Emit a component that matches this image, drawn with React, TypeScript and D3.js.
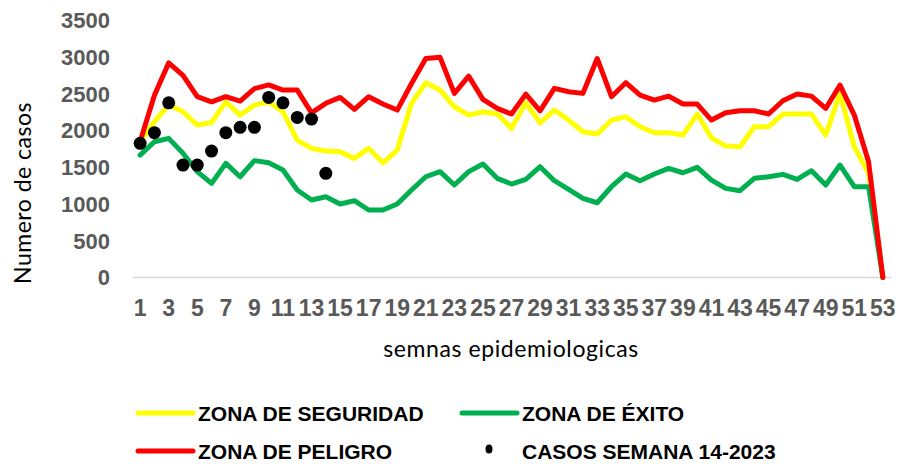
import React, { useRef, useEffect } from 'react';
import * as d3 from 'd3';

const weeks = [
  '1', '2', '3', '4', '5', '6', '7', '8', '9', '10', '11', '12', '13', '14', '15', '16', '17', '18',
  '19', '20', '21', '22', '23', '24', '25', '26', '27', '28', '29', '30', '31', '32', '33', '34', '35',
  '36', '37', '38', '39', '40', '41', '42', '43', '44', '45', '46', '47', '48', '49', '50', '51', '52', '53',
];

const zonaSeguridad = [
  1850, 2120, 2350, 2255, 2075, 2110, 2390, 2210, 2345, 2390, 2255, 1870, 1757, 1720, 1711, 1621, 1757, 1561,
  1734, 2370, 2650, 2550, 2323, 2210, 2255, 2224, 2029, 2377, 2105, 2278, 2142, 1983, 1952, 2142, 2187,
  2051, 1970, 1970, 1938, 2224, 1900, 1788, 1779, 2051, 2051, 2224, 2224, 2224, 1938, 2505, 1779, 1420, 0,
];

const zonaExito = [
  1666, 1847, 1893, 1690, 1440, 1281, 1553, 1371, 1590, 1561, 1462, 1190, 1054, 1099, 1000, 1045, 918, 918,
  1000, 1190, 1371, 1440, 1258, 1440, 1544, 1349, 1272, 1335, 1507, 1317, 1199, 1077, 1017, 1235, 1408,
  1317, 1408, 1485, 1425, 1499, 1326, 1213, 1181, 1349, 1371, 1403, 1335, 1453, 1258, 1530, 1235, 1235, 0,
];

const zonaPeligro = [
  1850, 2480, 2920, 2750, 2460, 2390, 2460, 2400, 2570, 2620, 2550, 2550, 2240, 2370, 2450, 2287, 2460, 2360,
  2278, 2640, 2980, 2995, 2505, 2740, 2424, 2300, 2224, 2495, 2268, 2573, 2528, 2505, 2980, 2460, 2650,
  2482, 2414, 2468, 2360, 2360, 2142, 2241, 2268, 2268, 2224, 2405, 2496, 2468, 2300, 2618, 2210, 1575, 0,
];

// casos 2023, semanas 1-14
const casos2023 = [1825, 1970, 2377, 1530, 1530, 1720, 1970, 2043, 2043, 2450, 2377, 2178, 2156, 1417];

const yTicks = [0, 500, 1000, 1500, 2000, 2500, 3000, 3500];

const W = 902;
const H = 464;

const App: React.FC = () => {
  const svgRef = useRef<SVGSVGElement | null>(null);

  useEffect(() => {
    if (!svgRef.current) return;
    const svg = d3.select(svgRef.current);
    svg.selectAll('*').remove();

    const x = d3.scaleBand().domain(weeks).range([133, 890]);
    const y = d3.scaleLinear().domain([0, 3500]).range([277.5, 20.25]);
    const cx = (i: number) => (x(weeks[i]) || 0) + x.bandwidth() / 2;

    // eje x
    svg.append('line')
      .attr('x1', 133).attr('x2', 892)
      .attr('y1', y(0)).attr('y2', y(0))
      .attr('stroke', '#d9d9d9').attr('stroke-width', 1.5);

    // etiquetas eje y
    svg.append('g')
      .selectAll('text')
      .data(yTicks)
      .enter()
      .append('text')
      .attr('x', 110)
      .attr('y', d => y(d))
      .attr('dy', '0.36em')
      .attr('text-anchor', 'end')
      .attr('font-family', 'Liberation Sans, Arial, sans-serif')
      .attr('font-weight', 'bold')
      .attr('font-size', 22)
      .attr('fill', '#595959')
      .text(d => d);

    // etiquetas eje x (una de cada dos)
    svg.append('g')
      .selectAll('text')
      .data(weeks.filter((_, i) => i % 2 === 0))
      .enter()
      .append('text')
      .attr('x', d => (x(d) || 0) + x.bandwidth() / 2)
      .attr('y', 316)
      .attr('text-anchor', 'middle')
      .attr('font-family', 'Liberation Sans, Arial, sans-serif')
      .attr('font-weight', 'bold')
      .attr('font-size', 23)
      .attr('fill', '#595959')
      .text(d => d);

    // titulos
    svg.append('text')
      .attr('transform', 'translate(31,193) rotate(-90)')
      .attr('text-anchor', 'middle')
      .attr('font-family', 'Lato, sans-serif')
      .attr('font-size', 23)
      .attr('letter-spacing', 0.5)
      .attr('fill', '#000')
      .text('Numero de casos');

    svg.append('text')
      .attr('x', 511)
      .attr('y', 357)
      .attr('text-anchor', 'middle')
      .attr('font-family', 'Lato, sans-serif')
      .attr('font-size', 23)
      .attr('letter-spacing', 0.6)
      .attr('fill', '#000')
      .text('semnas epidemiologicas');

    const line = d3.line<number>()
      .x((_, i) => cx(i))
      .y(d => y(d));

    const series = [
      { values: zonaSeguridad, color: '#ffff00' },
      { values: zonaExito, color: '#00b050' },
      { values: zonaPeligro, color: '#ff0000' },
    ];

    series.forEach(s => {
      svg.append('path')
        .datum(s.values)
        .attr('d', line)
        .attr('fill', 'none')
        .attr('stroke', s.color)
        .attr('stroke-width', 5)
        .attr('stroke-linejoin', 'round')
        .attr('stroke-linecap', 'round');
    });

    svg.append('g')
      .selectAll('circle')
      .data(casos2023)
      .enter()
      .append('circle')
      .attr('cx', (_, i) => cx(i))
      .attr('cy', d => y(d))
      .attr('r', 6.5)
      .attr('fill', '#000');

    // leyenda
    const legend = [
      { label: 'ZONA DE SEGURIDAD', color: '#ffff00', lx: 138, ly: 413, type: 'line' },
      { label: 'ZONA DE ÉXITO', color: '#00b050', lx: 462, ly: 413, type: 'line' },
      { label: 'ZONA DE PELIGRO', color: '#ff0000', lx: 138, ly: 451, type: 'line' },
      { label: 'CASOS SEMANA 14-2023', color: '#000', lx: 462, ly: 451, type: 'dot' },
    ];

    legend.forEach(l => {
      if (l.type === 'line') {
        svg.append('line')
          .attr('x1', l.lx).attr('x2', l.lx + 55)
          .attr('y1', l.ly).attr('y2', l.ly)
          .attr('stroke', l.color).attr('stroke-width', 5)
          .attr('stroke-linecap', 'round');
      } else {
        svg.append('ellipse')
          .attr('cx', l.lx + 27).attr('cy', l.ly - 2)
          .attr('rx', 3.5).attr('ry', 4.5)
          .attr('fill', l.color);
      }
      svg.append('text')
        .attr('x', l.lx + 60)
        .attr('y', l.ly + 8)
        .attr('font-family', 'Liberation Sans, Arial, sans-serif')
        .attr('font-weight', 'bold')
        .attr('font-size', 21)
        .attr('fill', '#000')
        .text(l.label);
    });
  }, []);

  return (
    <svg
      ref={svgRef}
      width={W}
      height={H}
      style={{ position: 'absolute', left: 0, top: 0, background: '#fff' }}
    ></svg>
  );
};

export default App;
